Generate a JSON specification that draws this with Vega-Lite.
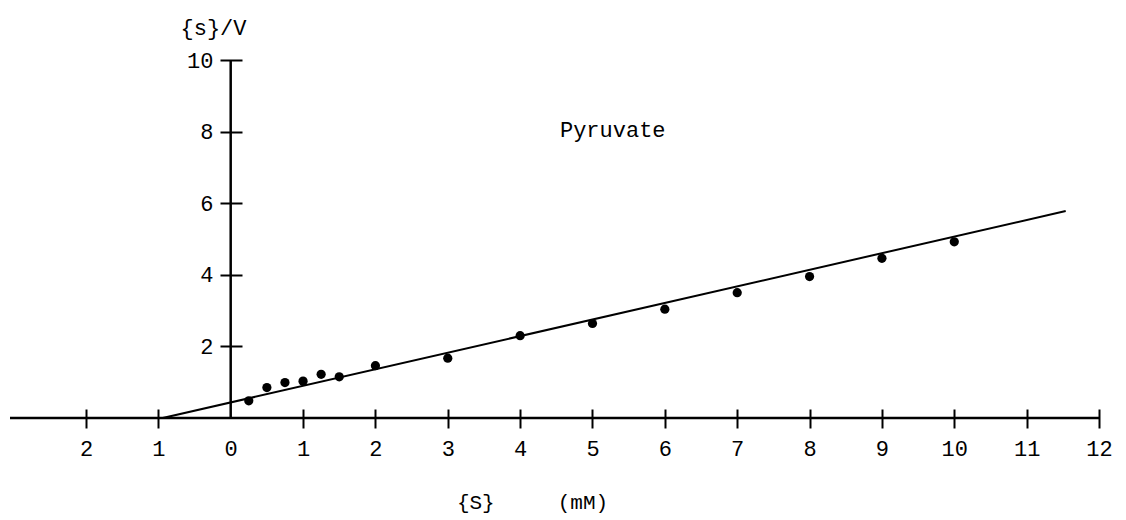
{
  "$schema": "https://vega.github.io/schema/vega-lite/v6.json",
  "width": 1089,
  "height": 358,
  "autosize": {"type": "none"},
  "padding": {"left": 10, "top": 60, "right": 27, "bottom": 102},
  "background": "white",
  "config": {
    "view": {"stroke": null},
    "font": "Liberation Mono",
    "axis": {
      "grid": false,
      "domain": false,
      "tickColor": "black",
      "tickWidth": 2,
      "labelColor": "black",
      "titleColor": "black",
      "labelFont": "Liberation Mono",
      "titleFont": "Liberation Mono",
      "labelFontSize": 22,
      "titleFontSize": 21,
      "titleFontWeight": "normal"
    }
  },
  "datasets": {
    "points": [
      {"s": 0.25, "sv": 0.48},
      {"s": 0.5, "sv": 0.85},
      {"s": 0.75, "sv": 0.99},
      {"s": 1.0, "sv": 1.03},
      {"s": 1.25, "sv": 1.22},
      {"s": 1.5, "sv": 1.15},
      {"s": 2, "sv": 1.46},
      {"s": 3, "sv": 1.67},
      {"s": 4, "sv": 2.30},
      {"s": 5, "sv": 2.64},
      {"s": 6, "sv": 3.04},
      {"s": 7, "sv": 3.50},
      {"s": 8, "sv": 3.95},
      {"s": 9, "sv": 4.46},
      {"s": 10, "sv": 4.92}
    ],
    "fit": [
      {"s": -0.94, "sv": 0},
      {"s": 11.54, "sv": 5.78}
    ],
    "labels": [
      {"s": 5.28, "sv": 8.04, "text": "Pyruvate"}
    ],
    "axislines": [
      {"s": -3.05, "s2": 12, "sv": 0, "sv2": 0},
      {"s": 0, "s2": 0, "sv": 0, "sv2": 10}
    ]
  },
  "encoding": {
    "x": {
      "field": "s",
      "type": "quantitative",
      "scale": {"domain": [-3.05, 12], "nice": false, "zero": false},
      "axis": {
        "orient": "bottom",
        "values": [-2, -1, 0, 1, 2, 3, 4, 5, 6, 7, 8, 9, 10, 11, 12],
        "labelExpr": "'' + abs(datum.value)",
        "offset": -9,
        "tickSize": 19,
        "tickOpacity": {"condition": {"test": "datum.value === 0", "value": 0}, "value": 1},
        "labelPadding": 10,
        "labelFlush": false,
        "labelOverlap": false,
        "title": "{S}\u00a0\u00a0\u00a0\u00a0\u00a0(mM)",
        "titleX": 522,
        "titleY": 93,
        "titleAlign": "center",
        "titleBaseline": "middle"
      }
    },
    "y": {
      "field": "sv",
      "type": "quantitative",
      "scale": {"domain": [0, 10], "nice": false},
      "axis": {
        "orient": "left",
        "values": [2, 4, 6, 8, 10],
        "offset": -232,
        "tickSize": 22,
        "labelPadding": 7,
        "labelFlush": false,
        "labelOverlap": false,
        "title": "{s}/V",
        "titleAngle": 0,
        "titleX": -29,
        "titleY": -33,
        "titleAlign": "center",
        "titleBaseline": "middle",
        "titleFontSize": 22
      }
    }
  },
  "layer": [
    {
      "data": {"name": "axislines"},
      "mark": {"type": "rule", "color": "black", "strokeWidth": 2.5},
      "encoding": {
        "x2": {"field": "s2"},
        "y2": {"field": "sv2"}
      }
    },
    {
      "data": {"name": "fit"},
      "mark": {"type": "line", "color": "black", "strokeWidth": 2}
    },
    {
      "data": {"name": "points"},
      "mark": {"type": "circle", "color": "black", "size": 85, "opacity": 1}
    },
    {
      "data": {"name": "labels"},
      "mark": {"type": "text", "color": "black", "font": "Liberation Mono", "fontSize": 22, "align": "center", "baseline": "middle"},
      "encoding": {"text": {"field": "text"}}
    }
  ]
}
